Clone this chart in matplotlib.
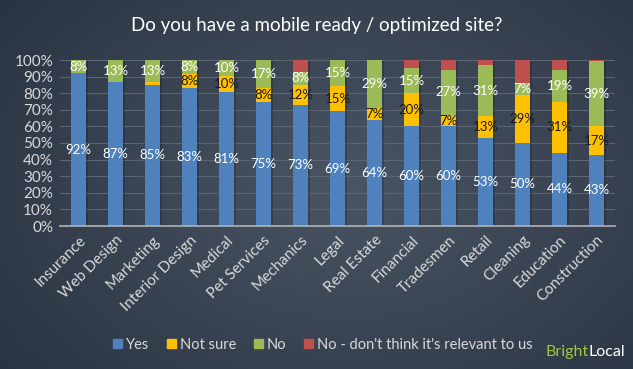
import numpy as np
import matplotlib
matplotlib.use("Agg")
import matplotlib.pyplot as plt
from matplotlib.patches import Patch

# data (percent of respondents)
industries = ["Insurance", "Web Design", "Marketing", "Interior Design", "Medical",
              "Pet Services", "Mechanics", "Legal", "Real Estate", "Financial",
              "Tradesmen", "Retail", "Cleaning", "Education", "Construction"]
yes = [92, 87, 85, 83, 81, 75, 73, 69, 64, 60, 60, 53, 50, 44, 43]
not_sure = [0, 0, 2, 8.4, 9.5, 8, 12, 15.4, 7, 20, 7, 13, 29, 31, 17]
no = [8, 13, 13, 8.4, 9.5, 17, 8, 15.4, 29, 15, 27, 31, 7, 19, 39.4]
no_irrelevant = [0, 0, 0, 0, 0, 0, 7, 0, 0, 5, 6, 3, 14, 6, 0.6]
series_names = ["Yes", "Not sure", "No", "No - don't think it's relevant to us"]
yticks = [0, 10, 20, 30, 40, 50, 60, 70, 80, 90, 100]

plt.rcParams["font.family"] = ["Lato", "DejaVu Sans"]

colors = ["#4f81bd", "#ffc000", "#9bbb59", "#c0504d"]
label_colors = ["white", "#1a1a1a", "white", "white"]
txt = "#d9d9d9"

W, H = 633, 369
fig = plt.figure(figsize=(W / 100, H / 100), dpi=100)

# radial background gradient
bg = fig.add_axes([0, 0, 1, 1], zorder=0)
yy, xx = np.mgrid[0:H, 0:W]
r = np.sqrt(((xx - 0.55 * W) / (0.75 * W)) ** 2 + ((yy - 0.5 * H) / (0.9 * H)) ** 2)
r = np.clip(r, 0, 1)
c_in = np.array([0x4a, 0x55, 0x64]) / 255
c_out = np.array([0x27, 0x30, 0x3e]) / 255
img = c_in[None, None, :] * (1 - r[..., None]) + c_out[None, None, :] * r[..., None]
bg.imshow(img, aspect="auto", extent=[0, 1, 0, 1])
bg.axis("off")

ax = fig.add_axes([60 / W, 1 - 226 / H, 555 / W, 166 / H], zorder=1)
ax.set_facecolor("none")

x = np.arange(len(industries))
bottom = np.zeros(len(industries))
for vals, col, lc in zip([yes, not_sure, no, no_irrelevant], colors, label_colors):
    vals = np.array(vals, dtype=float)
    # soft shadow
    ax.bar(x + 0.06, vals, 0.42, bottom=bottom - 0.6, color="black", alpha=0.18,
           zorder=1, linewidth=0)
    ax.bar(x, vals, 0.42, bottom=bottom, color=col, zorder=2, linewidth=0)
    if col != colors[3]:
        for xi, b, v in zip(x, bottom, vals):
            if v >= 5:
                ax.text(xi, b + v / 2, f"{v:.0f}%", ha="center", va="center",
                        color=lc, fontsize=9.5, zorder=3)
    bottom += vals

ax.set_xlim(-0.5, len(industries) - 0.5)
ax.set_ylim(0, 100)
ax.set_yticks(yticks)
ax.set_yticklabels([f"{t}%" for t in yticks], color=txt, fontsize=11)
ax.set_xticks(x)
ax.set_xticklabels(industries, rotation=45, ha="right", rotation_mode="anchor",
                   color=txt, fontsize=11)
ax.tick_params(length=0, pad=5)
ax.grid(axis="y", color="#5a6472", linewidth=0.8, zorder=0)
ax.set_axisbelow(True)
for s in ["top", "right", "left"]:
    ax.spines[s].set_visible(False)
ax.spines["bottom"].set_color("#b0b4ba")
ax.spines["bottom"].set_linewidth(1.2)

fig.text(0.5, 1 - 26 / H, "Do you have a mobile ready / optimized site?",
         ha="center", va="center", color="white", fontsize=13.5)

handles = [Patch(color=c) for c in colors]
fig.legend(handles, series_names, loc="center left", bbox_to_anchor=(100 / W, 1 - 345 / H),
           ncol=4, frameon=False, fontsize=10.5, labelcolor=txt, handlelength=0.6,
           handleheight=0.6, handletextpad=0.3, columnspacing=1.2)

fig.text(589 / W, 1 - 352 / H, "Bright", color="#a4c639", fontsize=11.5,
         ha="right", va="center")
fig.text(589 / W, 1 - 352 / H, "Local", color="white", fontsize=11.5,
         ha="left", va="center")

fig.savefig("out.png", dpi=100)
